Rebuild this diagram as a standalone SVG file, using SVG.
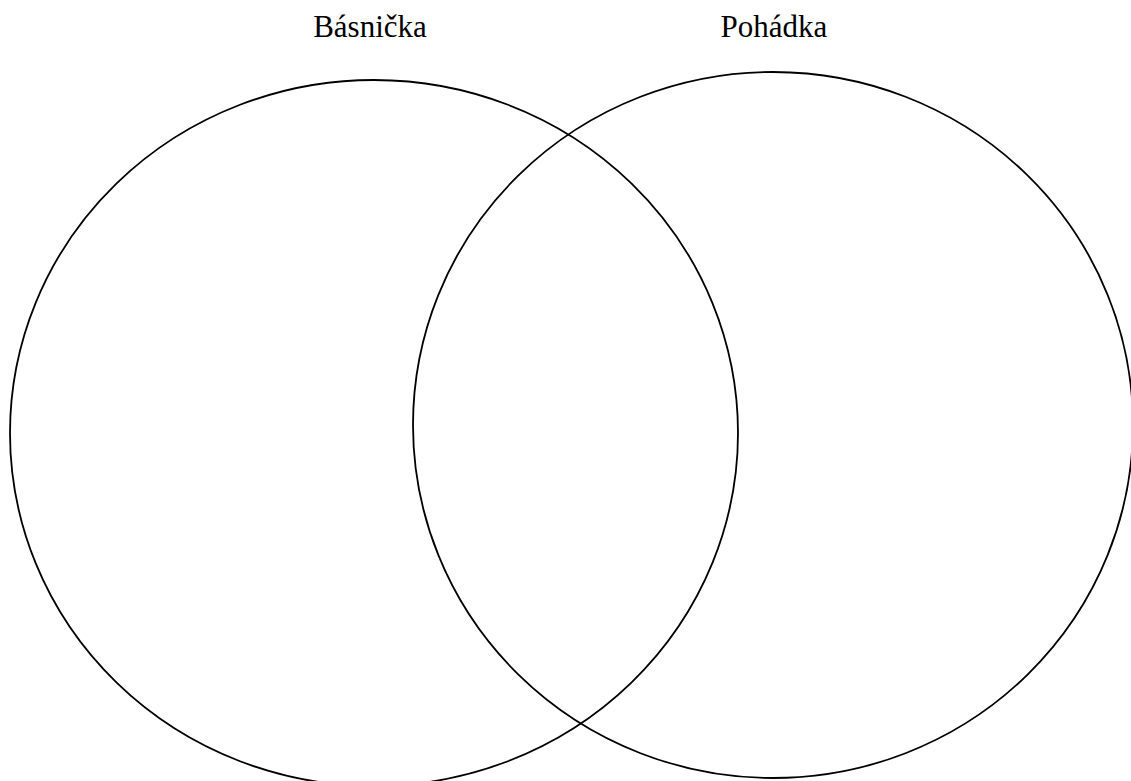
<svg xmlns="http://www.w3.org/2000/svg" width="1131" height="781" viewBox="0 0 1131 781">
<style>
.c{fill:none;stroke:#000;stroke-width:1.8}
.t{font-family:"Liberation Serif","Times New Roman",serif;font-size:31px;fill:#000;text-anchor:middle}
</style>
<rect width="1131" height="781" fill="#fff"/>
<g id="basnicka">
<ellipse class="c" cx="374" cy="433" rx="364" ry="353"/>
<text class="t" x="370" y="37">Básnička</text>
</g>
<g id="pohadka">
<ellipse class="c" cx="773" cy="425" rx="360" ry="353"/>
<text class="t" x="774" y="37">Pohádka</text>
</g>
<g id="connectors"></g>
</svg>
